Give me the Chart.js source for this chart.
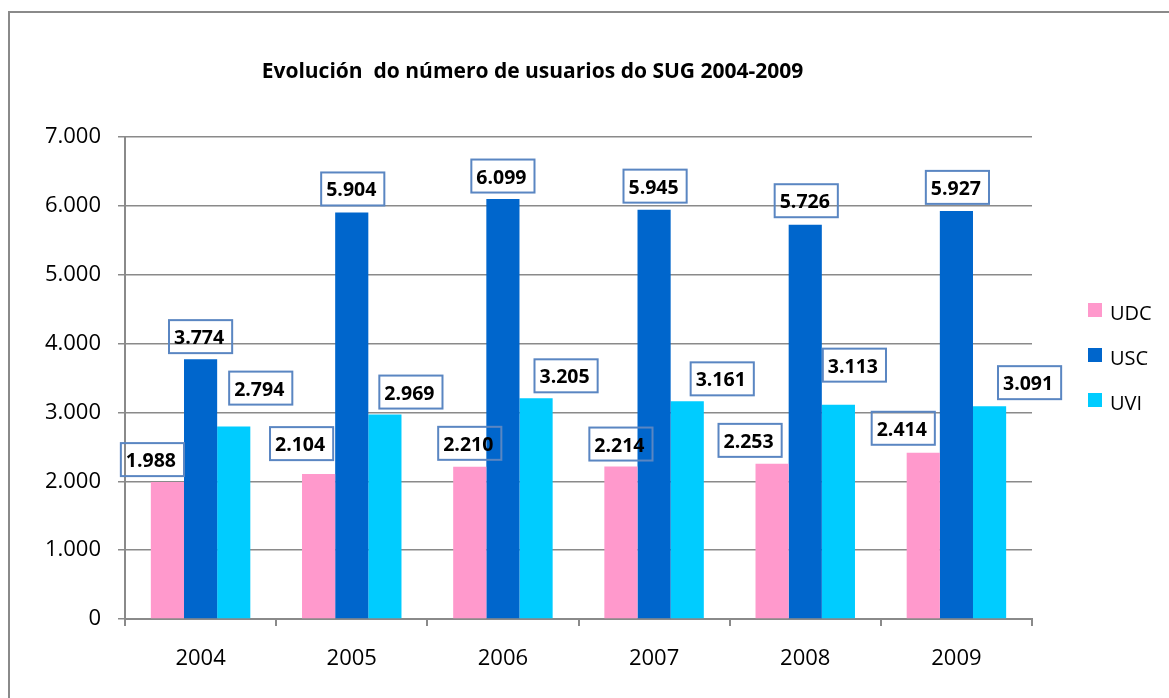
<!DOCTYPE html>
<html lang="gl">
<head>
  <meta charset="UTF-8">
  <title>Evolución do número de usuarios do SUG 2004-2009</title>
  <script src="https://cdn.jsdelivr.net/npm/chart.js"></script>
  <style>
    body { margin: 0; background: #fff; }
    #wrap { position: relative; width: 1169px; height: 698px; overflow: hidden; }
    #frame { position: absolute; left: 8px; top: 11px; width: 1300px; height: 900px;
             border-top: 2px solid #8a8a8a; border-left: 2px solid #8a8a8a; }
    #chart { position: absolute; left: 0; top: 0; }
  </style>
</head>
<body>
  <div id="wrap">
    <div id="frame"></div>
    <canvas id="chart" width="1169" height="698"></canvas>
  </div>

  <script>
    // data
    const years = ['2004', '2005', '2006', '2007', '2008', '2009'];
    const udc = [1988, 2104, 2210, 2214, 2253, 2414];
    const usc = [3774, 5904, 6099, 5945, 5726, 5927];
    const uvi = [2794, 2969, 3205, 3161, 3113, 3091];
    const yTicks = [0, 1000, 2000, 3000, 4000, 5000, 6000, 7000];

    const chartTitle = 'Evolución  do número de usuarios do SUG 2004-2009';

    // label box nudges [dx, gap above bar], as Excel left them
    const labelNudges = [
      [[-15, 6], [-17, 14], [0, 7], [0, 6], [-22, 7], [-20, 8]],
      [[0, 6], [1, 7], [0, 6.5], [1, 7], [1, 7.5], [1, 7]],
      [[27, 22], [26, 6], [30, 6], [35, 6], [16, 23], [40, 7]]
    ];

    const fmt = v => String(v).replace(/\B(?=(\d{3})+(?!\d))/g, '.');
    const FONT = '"Open Sans", sans-serif';

    const extras = {
      id: 'extras',
      afterDatasetsDraw(chart) {
        const ctx = chart.ctx;
        ctx.save();
        // value labels in outlined boxes
        ctx.font = 'bold 19.5px ' + FONT;
        ctx.textBaseline = 'alphabetic';
        ctx.textAlign = 'left';
        chart.data.datasets.forEach((ds, i) => {
          const meta = chart.getDatasetMeta(i);
          meta.data.forEach((bar, j) => {
            const txt = fmt(ds.data[j]);
            const [dx, gap] = labelNudges[i][j];
            const tw = ctx.measureText(txt).width;
            const w = tw + 13, h = 33;
            const cx = bar.x + dx;
            const bottom = bar.y - gap;
            ctx.strokeStyle = '#5a86c2';
            ctx.lineWidth = 2;
            ctx.strokeRect(cx - w / 2, bottom - h, w, h);
            ctx.fillStyle = '#000';
            ctx.fillText(txt, cx - w / 2 + 5, bottom - 9);
          });
        });
        ctx.restore();
      },
      afterDraw(chart) {
        const ctx = chart.ctx;
        const area = chart.chartArea;
        ctx.save();
        // title
        ctx.font = 'bold 21px ' + FONT;
        ctx.fillStyle = '#000';
        ctx.textAlign = 'center';
        ctx.textBaseline = 'alphabetic';
        ctx.fillText(chartTitle, 532.5, 78);
        // legend
        ctx.font = '20px ' + FONT;
        ctx.textAlign = 'left';
        chart.data.datasets.forEach((ds, i) => {
          const cy = 310 + i * 45;
          ctx.fillStyle = ds.backgroundColor;
          ctx.fillRect(area.right + 56, cy - 7, 14, 14);
          ctx.fillStyle = '#000';
          ctx.fillText(ds.label, area.right + 78, cy + 10);
        });
        ctx.restore();
      }
    };

    new Chart(document.getElementById('chart'), {
      type: 'bar',
      data: {
        labels: years,
        datasets: [
          { label: 'UDC', data: udc, backgroundColor: '#ff99cc' },
          { label: 'USC', data: usc, backgroundColor: '#0066cc' },
          { label: 'UVI', data: uvi, backgroundColor: '#00ccff' }
        ]
      },
      options: {
        responsive: false,
        animation: false,
        events: [],
        layout: { padding: { top: 137, right: 137, left: 0, bottom: 0 } },
        datasets: { bar: { categoryPercentage: 0.658, barPercentage: 1.0 } },
        plugins: {
          legend: { display: false },
          title: { display: false },
          tooltip: { enabled: false }
        },
        scales: {
          x: {
            grid: { offset: true, drawOnChartArea: false, drawTicks: true, tickLength: 7, color: '#8a8a8a', lineWidth: 2 },
            border: { color: '#8a8a8a', width: 2 },
            ticks: { color: '#000', font: { family: FONT, size: 22 }, padding: 20 },
            afterFit(scale) { scale.height = 79; }
          },
          y: {
            min: 0,
            max: 7000,
            afterBuildTicks(scale) { scale.ticks = yTicks.map(v => ({ value: v })); },
            grid: { color: '#8a8a8a', lineWidth: 1.5, tickLength: 7, drawTicks: true },
            border: { color: '#8a8a8a', width: 2 },
            ticks: { color: '#000', font: { family: FONT, size: 22 }, padding: 17, callback: v => fmt(v) },
            afterFit(scale) { scale.width = 125; }
          }
        }
      },
      plugins: [extras]
    });
  </script>
</body>
</html>
